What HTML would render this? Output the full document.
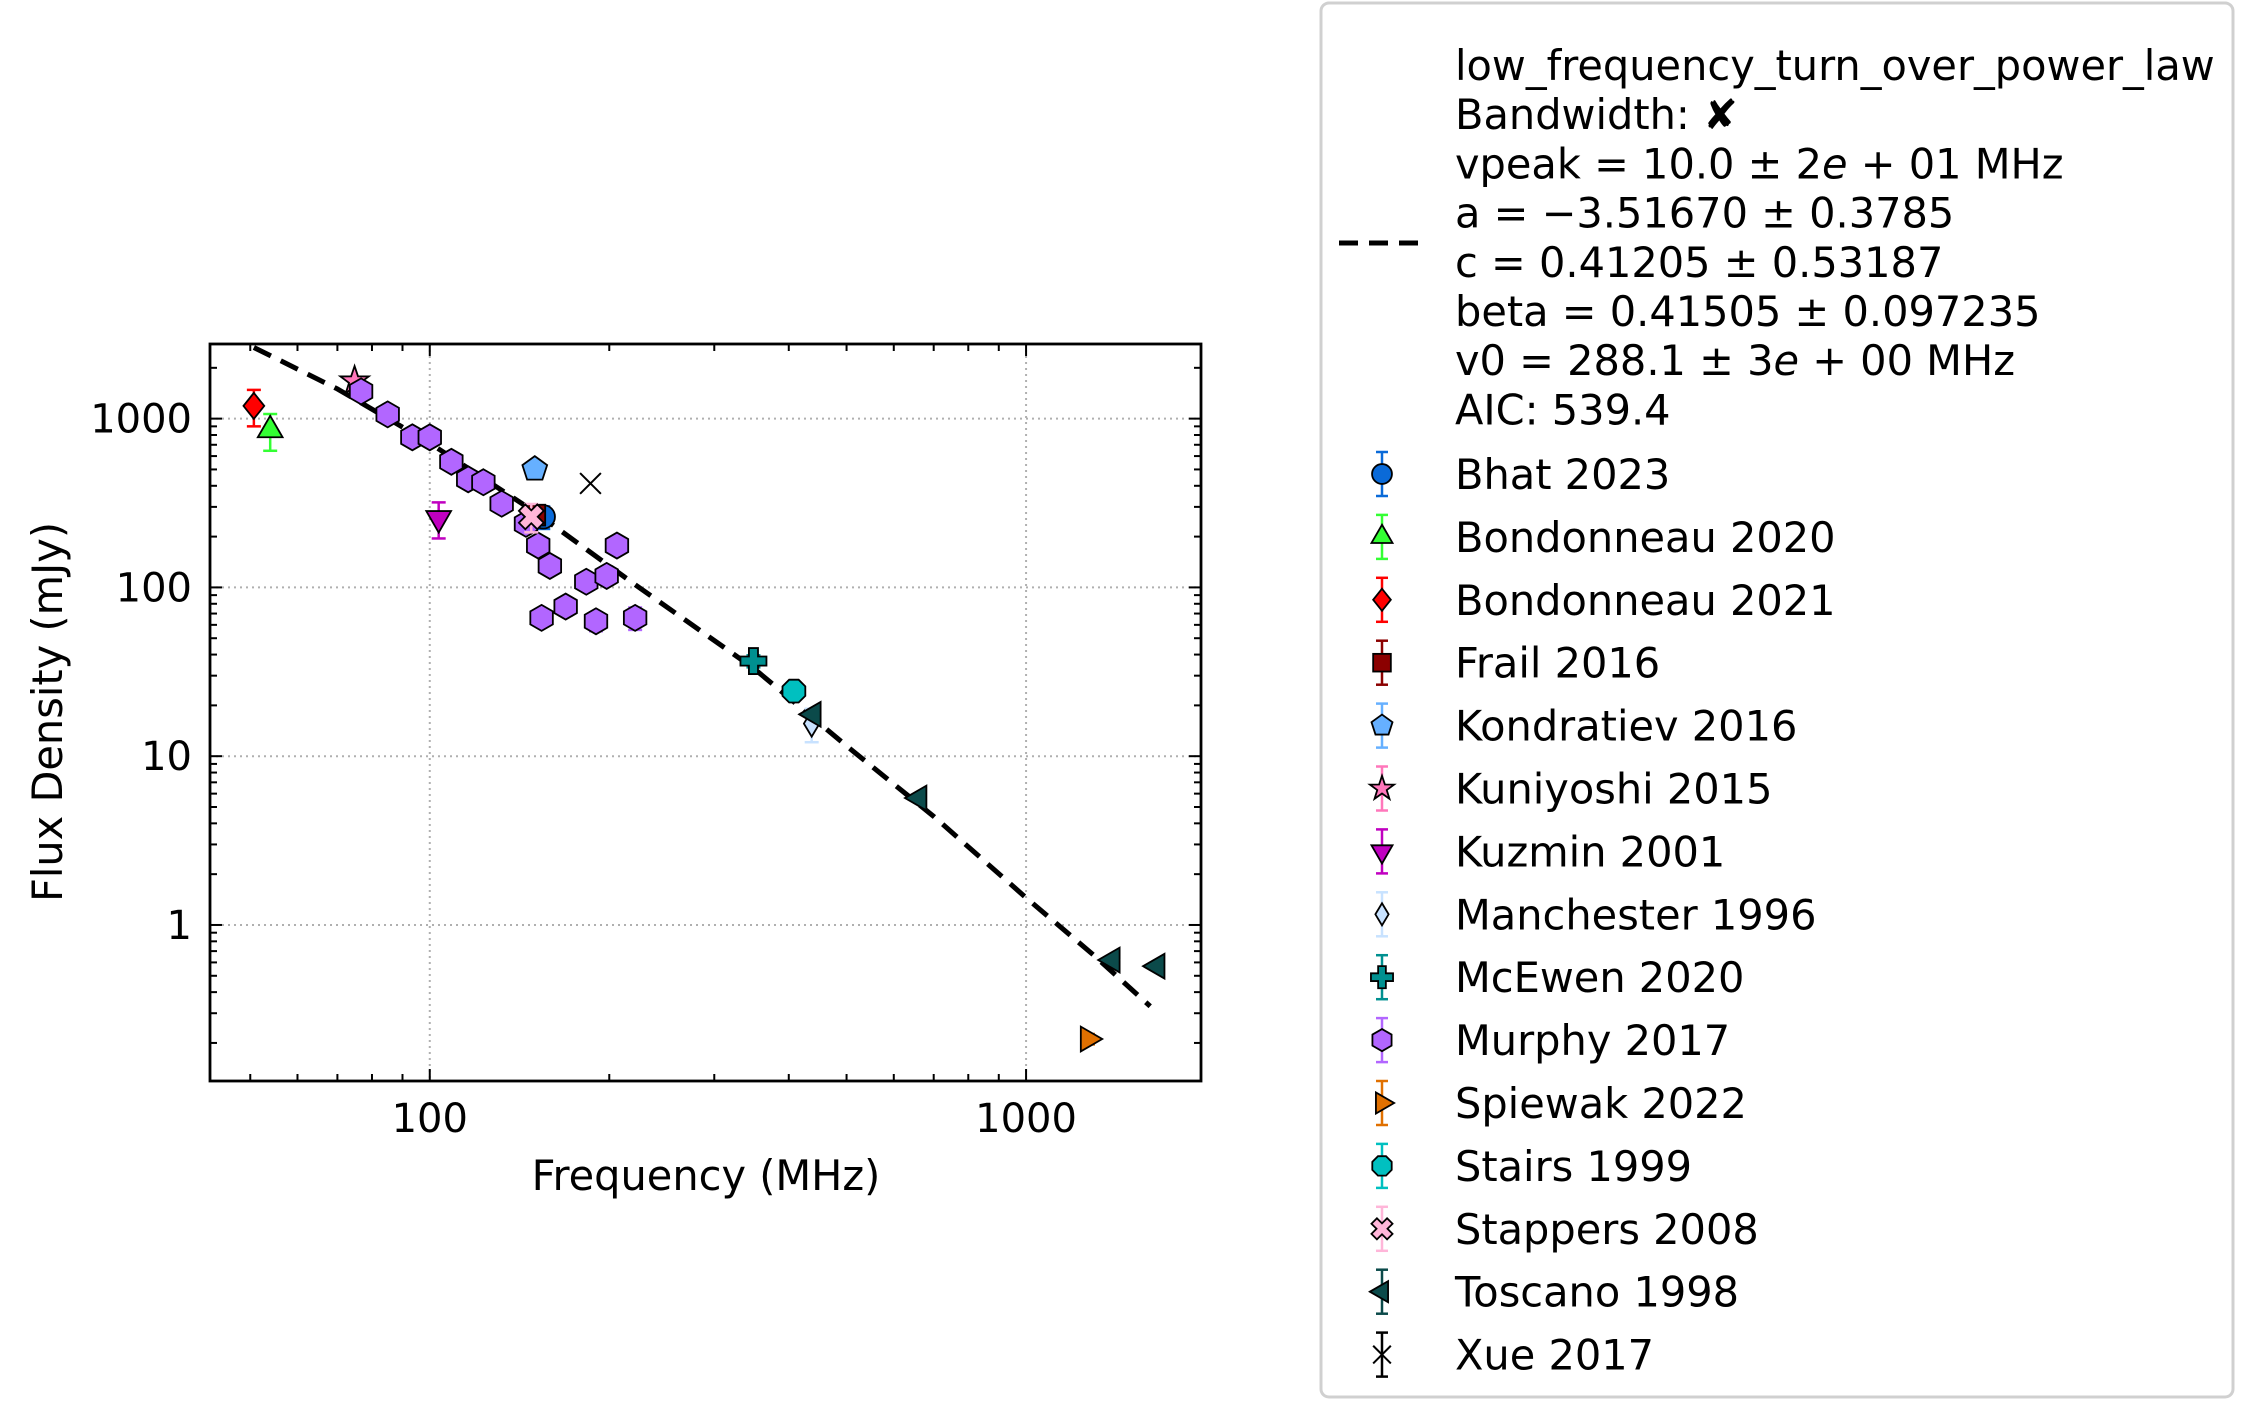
<!DOCTYPE html>
<html><head><meta charset="utf-8"><style>
html,body{margin:0;padding:0;background:#fff;}
svg{display:block;font-family:"DejaVu Sans","Liberation Sans",sans-serif;}
</style></head><body>
<svg id="chart" width="2263" height="1423" viewBox="0 0 2263 1423" xmlns="http://www.w3.org/2000/svg">
<g id="grid"></g>
<g id="fit"></g>
<g id="marks"></g>
<g id="axes"></g>
<text x="706" y="1190" font-size="41.5" text-anchor="middle">Frequency (MHz)</text>
<text x="0" y="0" font-size="41.5" text-anchor="middle" transform="translate(62,712) rotate(-90)">Flux Density (mJy)</text>
<g id="legend"></g>
</svg>
<script>
// ---- data ----
const seriesNames = ["Bhat 2023","Bondonneau 2020","Bondonneau 2021","Frail 2016","Kondratiev 2016","Kuniyoshi 2015","Kuzmin 2001","Manchester 1996","McEwen 2020","Murphy 2017","Spiewak 2022","Stairs 1999","Stappers 2008","Toscano 1998","Xue 2017"];
const seriesColors = ["#0a6ad8","#33ff33","#ff0000","#8b0000","#66b0ff","#ff77bb","#c000c0","#c8e2ff","#009090","#b266ff","#e07000","#00c0c0","#ffb6d9","#0b4a4a","#000000"];
const seriesShapes = ["circle","triangle","diamond","square","pentagon","star","tridown","thindiamond","plus","hexagon","triright","octagon","xfill","trileft","x"];
const bhatFreq=[155], bhatFlux=[262], bhatErr=[40];
const bon20Freq=[54], bon20Flux=[855], bon20Err=[210];
const bon21Freq=[50.7], bon21Flux=[1190], bon21Err=[290];
const frailFreq=[150], frailFlux=[268], frailErr=[0];
const kondFreq=[150], kondFlux=[502], kondErr=[0];
const kuniFreq=[74.8], kuniFlux=[1670], kuniErr=[0];
const kuzFreq=[103.5], kuzFlux=[257], kuzErr=[62];
const manFreq=[437], manFlux=[15.6], manErr=[3.5];
const mceFreq=[349], mceFlux=[36.6], mceErr=[3];
const murFreq=[76.7,85,93.5,100,108.7,116,123,132,145,152,159,169,154,183,198,206,190,221];
const murFlux=[1450,1060,775,775,555,437,420,313,238,177,134,77,66,108,117,177,63,66];
const murErr=[0,0,0,0,0,0,0,0,0,0,0,9,0,0,0,0,8,10];
const spiFreq=[1270], spiFlux=[0.211], spiErr=[0.015];
const staFreq=[408], staFlux=[24.3], staErr=[0];
const stapFreq=[148], stapFlux=[262], stapErr=[50];
const tosFreq=[440,662,1396,1660], tosFlux=[17.7,5.65,0.62,0.57], tosErr=[0,0,0,0];
const xueFreq=[186], xueFlux=[413], xueErr=[0];
const fitFreq=[50.7,70,100,150,220,350,500,700,1000,1300,1615];
const fitFlux=[2640,1500,716,280,105,33,11.5,4.4,1.45,0.66,0.33];
const xMajorTicks=[100,1000], xTickLabels=["100","1000"];
const yMajorTicks=[1,10,100,1000], yTickLabels=["1","10","100","1000"];
const legendText=["low_frequency_turn_over_power_law","Bandwidth: ✘","vpeak = 10.0 ± 2<tspan font-style='italic'>e</tspan> + 01 MHz","a = −3.51670 ± 0.3785","c = 0.41205 ± 0.53187","beta = 0.41505 ± 0.097235","v0 = 288.1 ± 3<tspan font-style='italic'>e</tspan> + 00 MHz","AIC: 539.4"];

// ---- axes ----
const L=210,R=1201,T=344,B=1081;
const xLo=Math.log10(42.8), xHi=Math.log10(1965);
const yLo=Math.log10(0.119), yHi=Math.log10(2768);
const X=f=>L+(Math.log10(f)-xLo)/(xHi-xLo)*(R-L);
const Y=v=>B-(Math.log10(v)-yLo)/(yHi-yLo)*(B-T);
const NS="http://www.w3.org/2000/svg";
function mk(tag,attrs,parent){const e=document.createElementNS(NS,tag);for(const k in attrs)e.setAttribute(k,attrs[k]);parent.appendChild(e);return e;}

const grid=document.getElementById('grid'), axes=document.getElementById('axes');
xMajorTicks.forEach(t=>{const l=mk('line',{x1:X(t),x2:X(t),y1:T,y2:B,stroke:'#b0b0b0','stroke-width':2,'stroke-dasharray':'2,4'},grid);
});
yMajorTicks.forEach(t=>{const l=mk('line',{x1:L,x2:R,y1:Y(t),y2:Y(t),stroke:'#b0b0b0','stroke-width':2,'stroke-dasharray':'2,4'},grid);
});

const xMinor=[];for(let d of [10,100,1000])for(let k=2;k<=9;k++){const v=d*k;if(v>42.8&&v<1965)xMinor.push(v);}
const yMinor=[];for(let d of [0.1,1,10,100,1000])for(let k=2;k<=9;k++){const v=d*k;if(v>0.119&&v<2768)yMinor.push(v);}
function tickX(v,len){[[B,B-len],[T,T+len]].forEach(p=>{const l=mk('line',{x1:X(v),x2:X(v),y1:p[0],y2:p[1],stroke:'#000','stroke-width':2},axes);});}
function tickY(v,len){[[L,L+len],[R,R-len]].forEach(p=>{const l=mk('line',{x1:p[0],x2:p[1],y1:Y(v),y2:Y(v),stroke:'#000','stroke-width':2},axes);});}
xMajorTicks.forEach(v=>tickX(v,12));xMinor.forEach(v=>tickX(v,7));
yMajorTicks.forEach(v=>tickY(v,12));yMinor.forEach(v=>tickY(v,7));
xMajorTicks.forEach((v,i)=>{const t=mk('text',{x:X(v),y:1132,'font-size':40,'text-anchor':'middle'},axes);t.textContent=xTickLabels[i];
});
yMajorTicks.forEach((v,i)=>{const t=mk('text',{x:192,y:Y(v)+14,'font-size':40,'text-anchor':'end'},axes);t.textContent=yTickLabels[i];
});
const frame=mk('rect',{x:L,y:T,width:R-L,height:B-T,fill:'none',stroke:'#000','stroke-width':2.8},axes);


// fit line
const fitG=document.getElementById('fit');
const fl=mk('polyline',{points:fitFreq.map((f,i)=>X(f)+','+Y(fitFlux[i])).join(' '),fill:'none',stroke:'#000','stroke-width':5,'stroke-dasharray':'19,11'},fitG);


// markers
function poly(n,r,rot){const p=[];for(let i=0;i<n;i++){const a=rot+i*2*Math.PI/n;p.push([r*Math.cos(a),r*Math.sin(a)]);}return p;}
function drawMarker(g,shape,cx,cy,col,s){
  s=s||1;let pts=null;const st={fill:col,stroke:'#000','stroke-width':1.8};
  const r=13*s;
  switch(shape){
    case 'circle':return mk('circle',Object.assign({cx,cy,r:r*0.9},st),g);
    case 'square':return mk('rect',Object.assign({x:cx-r*0.8,y:cy-r*0.8,width:r*1.6,height:r*1.6},st),g);
    case 'triangle':pts=poly(3,r*1.1,-Math.PI/2);break;
    case 'tridown':pts=poly(3,r*1.1,Math.PI/2);break;
    case 'triright':pts=poly(3,r*1.1,0);break;
    case 'trileft':pts=poly(3,r*1.1,Math.PI);break;
    case 'diamond':pts=[[0,-r],[r*0.8,0],[0,r],[-r*0.8,0]];break;
    case 'thindiamond':pts=[[0,-r],[r*0.6,0],[0,r],[-r*0.6,0]];break;
    case 'pentagon':pts=poly(5,r,-Math.PI/2);break;
    case 'hexagon':pts=poly(6,r,-Math.PI/2);break;
    case 'octagon':pts=poly(8,r*0.95,Math.PI/8);break;
    case 'star':{pts=[];for(let i=0;i<10;i++){const a=-Math.PI/2+i*Math.PI/5;const rr=i%2?r*0.45:r*1.15;pts.push([rr*Math.cos(a),rr*Math.sin(a)]);}break;}
    case 'plus':{const w=r*0.35;pts=[[-w,-r],[w,-r],[w,-w],[r,-w],[r,w],[w,w],[w,r],[-w,r],[-w,w],[-r,w],[-r,-w],[-w,-w]];break;}
    case 'xfill':{const w=r*0.35;const b=[[-w,-r],[w,-r],[w,-w],[r,-w],[r,w],[w,w],[w,r],[-w,r],[-w,w],[-r,w],[-r,-w],[-w,-w]];const c=Math.SQRT1_2;pts=b.map(p=>[(p[0]-p[1])*c,(p[0]+p[1])*c]);break;}
    case 'x':{const gg=mk('g',{},g);const q=r*0.8;mk('line',{x1:cx-q,y1:cy-q,x2:cx+q,y2:cy+q,stroke:col,'stroke-width':2},gg);mk('line',{x1:cx-q,y1:cy+q,x2:cx+q,y2:cy-q,stroke:col,'stroke-width':2},gg);return gg;}
  }
  return mk('polygon',Object.assign({points:pts.map(p=>(cx+p[0])+','+(cy+p[1])).join(' ')},st),g);
}
const marks=document.getElementById('marks');
const allSeries=[
 [bhatFreq,bhatFlux,bhatErr],[bon20Freq,bon20Flux,bon20Err],[bon21Freq,bon21Flux,bon21Err],[frailFreq,frailFlux,frailErr],
 [kondFreq,kondFlux,kondErr],[kuniFreq,kuniFlux,kuniErr],[kuzFreq,kuzFlux,kuzErr],[manFreq,manFlux,manErr],
 [mceFreq,mceFlux,mceErr],[murFreq,murFlux,murErr],[spiFreq,spiFlux,spiErr],[staFreq,staFlux,staErr],
 [stapFreq,stapFlux,stapErr],[tosFreq,tosFlux,tosErr],[xueFreq,xueFlux,xueErr]];
allSeries.forEach((s,si)=>{
  const g=mk('g',{},marks);
  
  
  s[0].forEach((f,i)=>{
    const cx=X(f),cy=Y(s[1][i]),e=s[2][i],col=seriesColors[si];
    if(e>0){const y1=Y(s[1][i]+e),y2=Y(Math.max(s[1][i]-e,1e-3));
      mk('line',{x1:cx,x2:cx,y1:y1,y2:y2,stroke:col,'stroke-width':2.5},g);
      mk('line',{x1:cx-7,x2:cx+7,y1:y1,y2:y1,stroke:col,'stroke-width':2.5},g);
      mk('line',{x1:cx-7,x2:cx+7,y1:y2,y2:y2,stroke:col,'stroke-width':2.5},g);}
    const m=drawMarker(g,seriesShapes[si],cx,cy,col);
    
    
  });
});

// legend
const lg=document.getElementById('legend');
const box=mk('rect',{x:1321,y:3,width:912,height:1394,rx:8,fill:'#fff',stroke:'#d0d0d0','stroke-width':3},lg);

const ld=mk('line',{x1:1339,x2:1424,y1:243,y2:243,stroke:'#000','stroke-width':5,'stroke-dasharray':'19,11'},lg);

legendText.forEach((t,i)=>{const e=mk('text',{x:1455,y:80+i*49.2,'font-size':41.5},lg);e.innerHTML=t;
});
seriesNames.forEach((n,i)=>{
  const cy=474+i*62.9;
  const g=mk('g',{},lg);
  
  
  const col=seriesColors[i];
  mk('line',{x1:1382,x2:1382,y1:cy-22,y2:cy+22,stroke:col,'stroke-width':2.5},g);
  mk('line',{x1:1376,x2:1388,y1:cy-22,y2:cy-22,stroke:col,'stroke-width':2.5},g);
  mk('line',{x1:1376,x2:1388,y1:cy+22,y2:cy+22,stroke:col,'stroke-width':2.5},g);
  drawMarker(g,seriesShapes[i],1382,cy,col,0.85);
  const t=mk('text',{x:1455,y:cy+15,'font-size':41.5},g);t.textContent=n;
});
</script>
</body></html>
